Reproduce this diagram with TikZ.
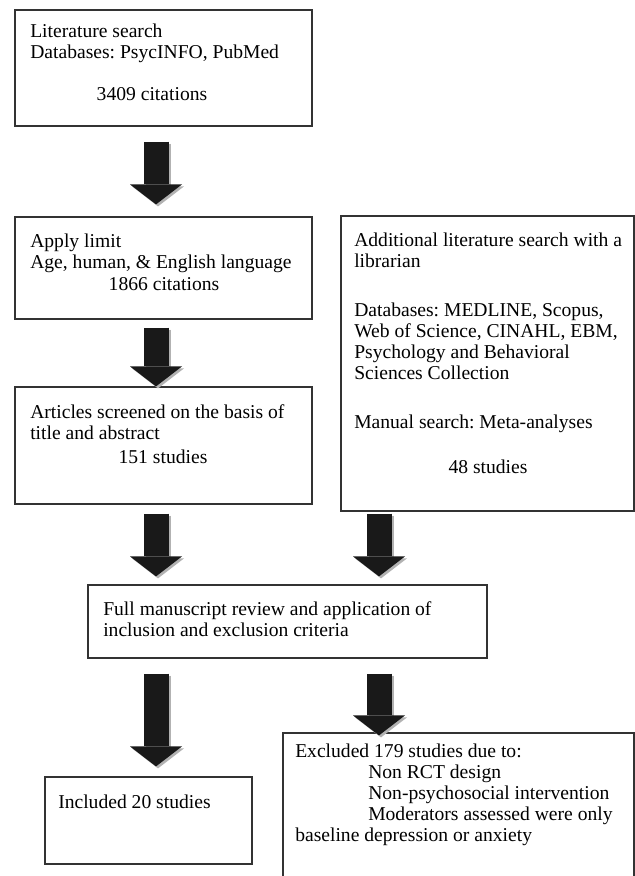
\documentclass[tikz,border=0pt]{standalone}
\usepackage{fontspec}
\setmainfont{Liberation Serif}
\usetikzlibrary{arrows.meta,fit}
\frenchspacing

\begin{document}
\begin{tikzpicture}
[
x=0.75pt, y=-0.75pt,
box/.style={draw=black!80, line width=0.9pt, inner sep=0pt},
txt/.style={anchor=base west, align=left, inner sep=0pt, font=\fontsize{14.7}{15.75}\selectfont},
num/.style={anchor=base, inner sep=0pt, font=\fontsize{14.7}{15.75}\selectfont},
down/.style={line width=18.75pt, draw=black!90, -{Triangle[length=15pt, width=39pt, line width=0pt]}},
shade/.style={line width=18.75pt, draw=gray!60, -{Triangle[length=15pt, width=39pt, line width=0pt]}, transform canvas={xshift=1.5pt, yshift=-1.5pt}}
]
\useasboundingbox (0,0) rectangle (635,876);

%Boxes
\node[box, fit={(15,10) (312,126)}]   (lit)    {};
\node[box, fit={(15,217) (312,319)}]  (limit)  {};
\node[box, fit={(15,387) (312,504)}]  (screen) {};
\node[box, fit={(341,216) (634,511)}] (extra)  {};
\node[box, fit={(88,585) (487,658)}]  (review) {};
\node[box, fit={(45,777) (252,864)}]  (incl)   {};
\node[box, fit={(283,733) (634,890)}] (excl)   {};

%Texts (base = last line)
\node[txt] (litText)    at (30,58)   {Literature search\\Databases: PsycINFO, PubMed};
\node[num] (litNum)     at (152,100) {3409 citations};
\node[txt] (limitText)  at (30,268)  {Apply limit\\Age, human, \& English language};
\node[num] (limitNum)   at (164,290) {1866 citations};
\node[txt] (screenText) at (30,439)  {Articles screened on the basis of\\title and abstract};
\node[num] (screenNum)  at (163,463) {151 studies};
\node[txt] (extraText)  at (354,428) {Additional literature search with a\\librarian\\[21pt]
  Databases: MEDLINE, Scopus,\\Web of Science, CINAHL, EBM,\\Psychology and Behavioral\\Sciences Collection\\[21pt]
  Manual search: Meta-analyses};
\node[num] (extraNum)   at (488,473) {48 studies};
\node[txt] (reviewText) at (103,636) {Full manuscript review and application of\\inclusion and exclusion criteria};
\node[txt] (inclText)   at (58,808)  {Included 20 studies};
\node[txt] (exclText)   at (295,841) {Excluded 179 studies due to:\\
  \hspace*{54.75pt}Non RCT design\\
  \hspace*{54.75pt}Non-psychosocial intervention\\
  \hspace*{54.75pt}Moderators assessed were only\\
  baseline depression or anxiety};

%Arrows
\coordinate (colL) at (156,0);
\coordinate (colR) at (379,0);
\foreach \s in {shade,down}{
\draw[\s, shorten <=11.25pt, shorten >=9pt] (lit.south -| colL) -- (limit.north -| colL);
\draw[\s, shorten <=6pt, shorten >=0pt] (limit.south -| colL) -- (screen.north -| colL);
\draw[\s, shorten <=6.75pt, shorten >=6pt] (screen.south -| colL) -- (review.north -| colL);
\draw[\s, shorten <=1.5pt, shorten >=6pt] (extra.south -| colR) -- (review.north -| colR);
\draw[\s, shorten <=11.25pt, shorten >=7.5pt] (review.south -| colL) -- (incl.north -| colL);
\draw[\s, shorten <=11.25pt, shorten >=-2.25pt] (review.south -| colR) -- (excl.north -| colR);
}
\end{tikzpicture}
\end{document}
